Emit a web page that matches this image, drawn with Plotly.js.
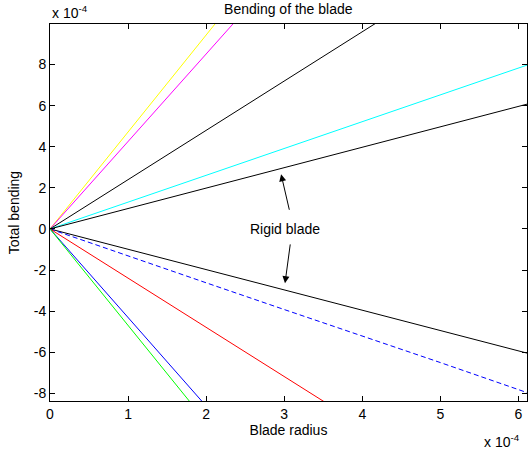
<!DOCTYPE html>
<html>
<head>
<meta charset="utf-8">
<script src="https://cdn.plot.ly/plotly-3.0.1.min.js"></script>
<style>html,body{margin:0;padding:0;background:#fff;}#chart{width:530px;height:451px;}</style>
</head>
<body>
<div id="chart"></div>
<script>
// values in units of 1e-4
const xTicks = [0, 1, 2, 3, 4, 5, 6];
const yTicks = [-8, -6, -4, -2, 0, 2, 4, 6, 8];

const yellowX = [0, 2.12];   const yellowY = [0, 10.0];
const magentaX = [0, 2.35];  const magentaY = [0, 10.0];
const blackUpX = [0, 4.17];  const blackUpY = [0, 10.0];
const cyanX = [0, 6.11];     const cyanY = [0, 7.97];
const rigidUpX = [0, 6.11];  const rigidUpY = [0, 6.07];
const rigidLoX = [0, 6.11];  const rigidLoY = [0, -6.04];
const dashX = [0, 1, 2, 3, 4, 5, 6.11];
const dashY = [0, -1.32, -2.62, -3.92, -5.2, -6.5, -7.96];
const redX = [0, 3.51];      const redY = [0, -8.4];
const blueX = [0, 1.95];     const blueY = [0, -8.4];
const greenX = [0, 1.79];    const greenY = [0, -8.4];

function ln(x, y, color, dash) {
  return {x: x, y: y, type: 'scatter', mode: 'lines', hoverinfo: 'skip',
          line: {color: color, width: 1, dash: dash || 'solid'}, showlegend: false};
}

const traces = [
  ln(yellowX, yellowY, '#ffff00'),
  ln(magentaX, magentaY, '#ff00ff'),
  ln(blackUpX, blackUpY, '#000000'),
  ln(cyanX, cyanY, '#00ffff'),
  ln(rigidUpX, rigidUpY, '#000000'),
  ln(rigidLoX, rigidLoY, '#000000'),
  ln(dashX, dashY, '#0000ff', '5px,3px'),
  ln(redX, redY, '#ff0000'),
  ln(blueX, blueY, '#0000ff'),
  ln(greenX, greenY, '#00ff00')
];

const font = {family: 'Liberation Sans, Arial, sans-serif', size: 14, color: '#000'};

const axisCommon = {
  showgrid: false, zeroline: false, showline: true, linecolor: '#000', linewidth: 1,
  ticks: 'inside', ticklen: 5, tickwidth: 1, tickcolor: '#000', mirror: 'allticks',
  tickfont: font, tickmode: 'array'
};

const layout = {
  width: 530, height: 451,
  margin: {l: 50, r: 3, t: 24, b: 50},
  paper_bgcolor: '#fff', plot_bgcolor: '#fff',
  font: font,
  title: {text: 'Bending of the blade', font: font, x: 0.544, xanchor: 'center', y: 0.98, yanchor: 'middle', yref: 'container'},
  xaxis: Object.assign({}, axisCommon, {
    range: [0, 6.11], tickvals: xTicks, ticktext: xTicks.map(String),
    title: {text: 'Blade radius', font: font, standoff: 2}
  }),
  yaxis: Object.assign({}, axisCommon, {
    range: [-8.37, 9.97], tickvals: yTicks, ticktext: yTicks.map(String),
    title: {text: 'Total bending', font: font, standoff: 10}
  }),
  annotations: [
    {text: 'Rigid blade', x: 3.01, y: 0, xref: 'x', yref: 'y', showarrow: false, font: font},
    {text: '', x: 2.96, y: 2.66, ax: 3.07, ay: 0.86, xref: 'x', yref: 'y', axref: 'x', ayref: 'y',
     showarrow: true, arrowhead: 2, arrowsize: 1.4, arrowwidth: 1, arrowcolor: '#000'},
    {text: '', x: 3.01, y: -2.64, ax: 3.08, ay: -0.68, xref: 'x', yref: 'y', axref: 'x', ayref: 'y',
     showarrow: true, arrowhead: 2, arrowsize: 1.4, arrowwidth: 1, arrowcolor: '#000'},
    {text: 'x 10<sup>-4</sup>', x: 0, y: 1, xref: 'paper', yref: 'paper', xanchor: 'left', yanchor: 'bottom',
     yshift: 1, showarrow: false, font: font},
    {text: 'x 10<sup>-4</sup>', x: 1, y: 0, xref: 'paper', yref: 'paper', xanchor: 'right', yanchor: 'top',
     xshift: -5, yshift: -29, showarrow: false, font: font}
  ]
};

Plotly.newPlot('chart', traces, layout, {staticPlot: true, displayModeBar: false});
</script>
</body>
</html>
